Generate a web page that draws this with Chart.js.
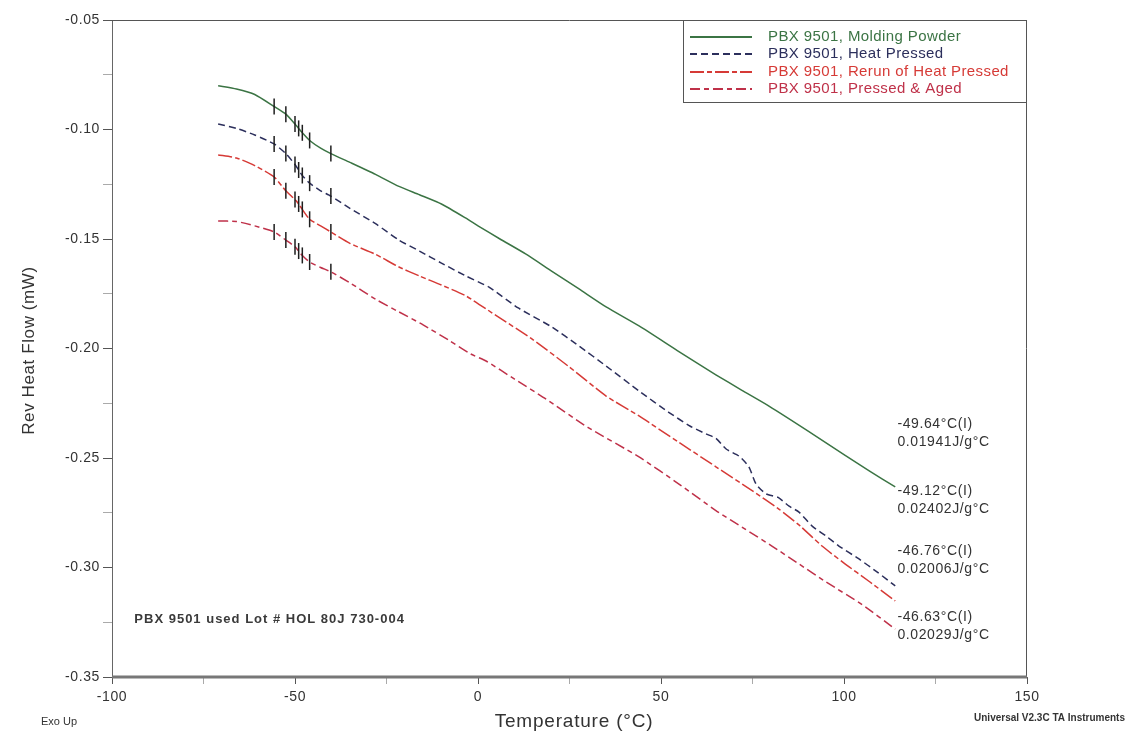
<!DOCTYPE html>
<html>
<head>
<meta charset="utf-8">
<script src="https://cdn.jsdelivr.net/npm/chart.js@4.4.1/dist/chart.umd.min.js"></script>
<style>
html,body{margin:0;padding:0;background:#ffffff;}
#wrap{width:1129px;height:735px;position:relative;}
</style>
</head>
<body>
<div id="wrap"><canvas id="c" width="1129" height="735"></canvas></div>
<script>
// ---------------- DATA ----------------
const seriesNames = [
  "PBX 9501, Molding Powder",
  "PBX 9501, Heat Pressed",
  "PBX 9501, Rerun of Heat Pressed",
  "PBX 9501, Pressed & Aged"
];

const moldingX = [-71,-66,-61,-55.7,-52.5,-50,-49,-48,-46,-43,-40.2,-35,-28,-21.6,-16,-10,-3.3,0,6,13,20,27.6,35,44,55,65,72,79.5,90,100,107,114];
const moldingY = [-0.0800,-0.0815,-0.0840,-0.0895,-0.0930,-0.0975,-0.0995,-0.1015,-0.1050,-0.1085,-0.1110,-0.1150,-0.1205,-0.1260,-0.1298,-0.1340,-0.1405,-0.1440,-0.1500,-0.1568,-0.1645,-0.1728,-0.1810,-0.1897,-0.2015,-0.2120,-0.2190,-0.2263,-0.2375,-0.2485,-0.2560,-0.2632];

const pressedX = [-71,-66,-61,-55.7,-52.5,-50,-49,-48,-46,-43,-40.2,-35,-28,-21.6,-16,-10,-3.3,3,11,20,27.6,35,44,52,58,62.3,65,67.8,71.3,74,76,78.7,82,85,87.7,91.3,95,98.6,104,109,114];
const pressedY = [-0.0975,-0.0995,-0.1025,-0.1066,-0.1110,-0.1160,-0.1185,-0.1210,-0.1245,-0.1280,-0.1304,-0.1360,-0.1430,-0.1505,-0.1555,-0.1610,-0.1669,-0.1720,-0.1815,-0.1900,-0.1989,-0.2080,-0.2194,-0.2290,-0.2355,-0.2390,-0.2410,-0.2459,-0.2491,-0.2540,-0.2620,-0.2664,-0.2680,-0.2720,-0.2747,-0.2811,-0.2855,-0.2902,-0.2960,-0.3020,-0.3084];

const rerunX = [-71,-66,-61,-55.7,-52.5,-50,-49,-48,-46,-43,-40.2,-35,-28,-21.6,-16,-10,-3.3,5,14.8,25,35,44,55,65,75,82.2,88,94,100,107,114];
const rerunY = [-0.1116,-0.1130,-0.1165,-0.1217,-0.1280,-0.1320,-0.1340,-0.1365,-0.1410,-0.1440,-0.1468,-0.1520,-0.1570,-0.1628,-0.1669,-0.1710,-0.1760,-0.1850,-0.1957,-0.2085,-0.2217,-0.2308,-0.2430,-0.2540,-0.2650,-0.2733,-0.2810,-0.2902,-0.2980,-0.3065,-0.3153];

const agedX = [-71,-66,-61,-55.7,-52.5,-50,-49,-48,-46,-43,-40.2,-35,-28,-21.6,-15,-8,-2,2.2,10,18.6,30,44,55,65,73,80.3,87.7,95,105,114];
const agedY = [-0.1418,-0.1420,-0.1440,-0.1468,-0.1505,-0.1535,-0.1555,-0.1575,-0.1605,-0.1630,-0.1650,-0.1700,-0.1775,-0.1833,-0.1892,-0.1962,-0.2025,-0.2057,-0.2140,-0.2231,-0.2360,-0.2495,-0.2620,-0.2740,-0.2825,-0.2902,-0.2984,-0.3065,-0.3170,-0.3281];

// analysis markers (temperatures where the cursor ticks cross each curve)
const markerX = [-55.7,-52.5,-50,-49,-48,-46,-40.2];

// axis ticks
const xTickLabels = [-100,-50,0,50,100,150];
const yTickLabels = [-0.05,-0.10,-0.15,-0.20,-0.25,-0.30,-0.35];

// transition annotations
const annoTemps = ["-49.64°C(I)","-49.12°C(I)","-46.76°C(I)","-46.63°C(I)"];
const annoCp    = ["0.01941J/g°C","0.02402J/g°C","0.02006J/g°C","0.02029J/g°C"];
const annoY     = [-0.2345,-0.2651,-0.2925,-0.3226];

const noteText = "PBX 9501 used Lot # HOL 80J 730-004";
const xTitle = "Temperature (°C)";
const yTitle = "Rev Heat Flow (mW)";
const leftFoot = "Exo Up";
const rightFoot = "Universal V2.3C TA Instruments";

// ---------------- STYLE ----------------
const colors = ["#3b7444","#2c2f5c","#d63a36","#bf3149"];
const dashes = [[], [7,4], [14,3,5,3], [10,4,5,4]];
const FONT = "'Liberation Sans', Arial, sans-serif";

function zip(xs, ys){ return xs.map((x,i)=>({x:x, y:ys[i]})); }
const allX = [moldingX, pressedX, rerunX, agedX];
const allY = [moldingY, pressedY, rerunY, agedY];

const datasets = seriesNames.map((name,i)=>({
  label: name,
  data: zip(allX[i], allY[i]),
  borderColor: colors[i],
  borderWidth: 1.5,
  borderDash: dashes[i],
  tension: 0.2,
  fill: false,
  pointStyle: 'line',
  rotation: 90,
  pointBorderColor: '#1e1e1e',
  pointBorderWidth: 1.5,
  pointRadius: (ctx)=> (ctx.raw && markerX.includes(ctx.raw.x)) ? 8 : 0,
  pointHoverRadius: 0
}));

const isMajor = (v, step)=> Math.abs(v/step - Math.round(v/step)) < 1e-6;

const decorPlugin = {
  id: 'decor',
  beforeDraw(chart){
    chart.ctx.letterSpacing = '0.6px';
  },
  afterDraw(chart){
    const c = chart.ctx;
    const xs = chart.scales.x, ys = chart.scales.y;
    const a = chart.chartArea;
    c.save();
    // frame top and right
    c.strokeStyle = '#555';
    c.lineWidth = 1;
    c.beginPath();
    c.moveTo(a.left, a.top+0.5); c.lineTo(a.right, a.top+0.5);
    c.moveTo(a.right-0.5, a.top); c.lineTo(a.right-0.5, a.bottom);
    c.stroke();
    // thicker bottom axis
    c.strokeStyle = '#777';
    c.lineWidth = 3;
    c.beginPath();
    c.moveTo(a.left, a.bottom); c.lineTo(a.right, a.bottom);
    c.stroke();

    // legend box
    const lx = 683, ly = 20, lw = a.right - 683, lh = 83;
    c.fillStyle = '#fff';
    c.fillRect(lx, ly, lw, lh);
    c.strokeStyle = '#555';
    c.lineWidth = 1;
    c.strokeRect(lx+0.5, ly+0.5, lw-1, lh-1);
    c.font = "15px " + FONT;
    c.letterSpacing = '0.4px';
    c.textBaseline = 'middle';
    c.textAlign = 'left';
    const rowY = [37, 54, 72, 89];
    chart.data.datasets.forEach((ds,i)=>{
      c.strokeStyle = ds.borderColor;
      c.lineWidth = 1.8;
      c.setLineDash(ds.borderDash);
      c.beginPath();
      c.moveTo(690, rowY[i]); c.lineTo(752, rowY[i]);
      c.stroke();
      c.setLineDash([]);
      c.fillStyle = ds.borderColor;
      c.fillText(ds.label, 768, rowY[i]);
    });

    // annotations
    c.fillStyle = '#333';
    c.font = "14px " + FONT;
    c.letterSpacing = '0.6px';
    c.textAlign = 'left';
    const ax = xs.getPixelForValue(114.6);
    annoTemps.forEach((t,i)=>{
      const py = ys.getPixelForValue(annoY[i]);
      c.fillText(t, ax, py);
      c.fillText(annoCp[i], ax, py + 18);
    });

    // lot note
    c.font = "bold 13px " + FONT;
    c.letterSpacing = '1px';
    c.fillStyle = '#3a3a3a';
    c.fillText(noteText, xs.getPixelForValue(-93.9), ys.getPixelForValue(-0.3235));

    // axis titles & footers
    c.fillStyle = '#333';
    c.font = "19px " + FONT;
    c.letterSpacing = '0.8px';
    c.textAlign = 'center';
    c.fillText(xTitle, 574, 722);
    c.save();
    c.translate(29, (a.top + a.bottom)/2 + 2);
    c.rotate(-Math.PI/2);
    c.font = "17px " + FONT;
    c.letterSpacing = '0.6px';
    c.fillText(yTitle, 0, 0);
    c.restore();
    c.font = "11px " + FONT;
    c.letterSpacing = '0px';
    c.textAlign = 'left';
    c.fillText(leftFoot, 41, 722);
    c.font = "bold 10px " + FONT;
    c.textAlign = 'right';
    c.fillText(rightFoot, 1125, 718);
    c.restore();
  }
};

new Chart(document.getElementById('c'), {
  type: 'line',
  data: { datasets },
  options: {
    responsive: false,
    animation: false,
    layout: { padding: { left: 0, right: 102, top: 20, bottom: 0 } },
    plugins: { legend: { display: false }, tooltip: { enabled: false } },
    scales: {
      x: {
        type: 'linear',
        min: -100, max: 150,
        afterFit: (s)=>{ s.height = 58; },
        border: { display: true, color: '#666', width: 1 },
        grid: {
          display: true, drawOnChartArea: false, tickLength: 7,
          tickColor: (ctx)=> isMajor(ctx.tick.value, 50) ? '#555' : '#aaa',
          tickWidth: 1
        },
        ticks: {
          stepSize: 25,
          autoSkip: false,
          maxRotation: 0,
          padding: 5,
          color: '#333',
          font: { family: FONT, size: 14 },
          callback: (v)=> xTickLabels.includes(v) ? String(v) : ''
        }
      },
      y: {
        type: 'linear',
        min: -0.35, max: -0.05,
        afterFit: (s)=>{ s.width = 112; },
        border: { display: true, color: '#666', width: 1 },
        grid: {
          display: true, drawOnChartArea: false, tickLength: 9,
          tickColor: (ctx)=> isMajor(ctx.tick.value, 0.05) ? '#555' : '#aaa',
          tickWidth: 1
        },
        ticks: {
          stepSize: 0.025,
          autoSkip: false,
          padding: 3,
          color: '#333',
          font: { family: FONT, size: 14 },
          callback: (v)=> yTickLabels.some(t=>Math.abs(t-v)<1e-6) ? v.toFixed(2) : ''
        }
      }
    }
  },
  plugins: [decorPlugin]
});
</script>
</body>
</html>
